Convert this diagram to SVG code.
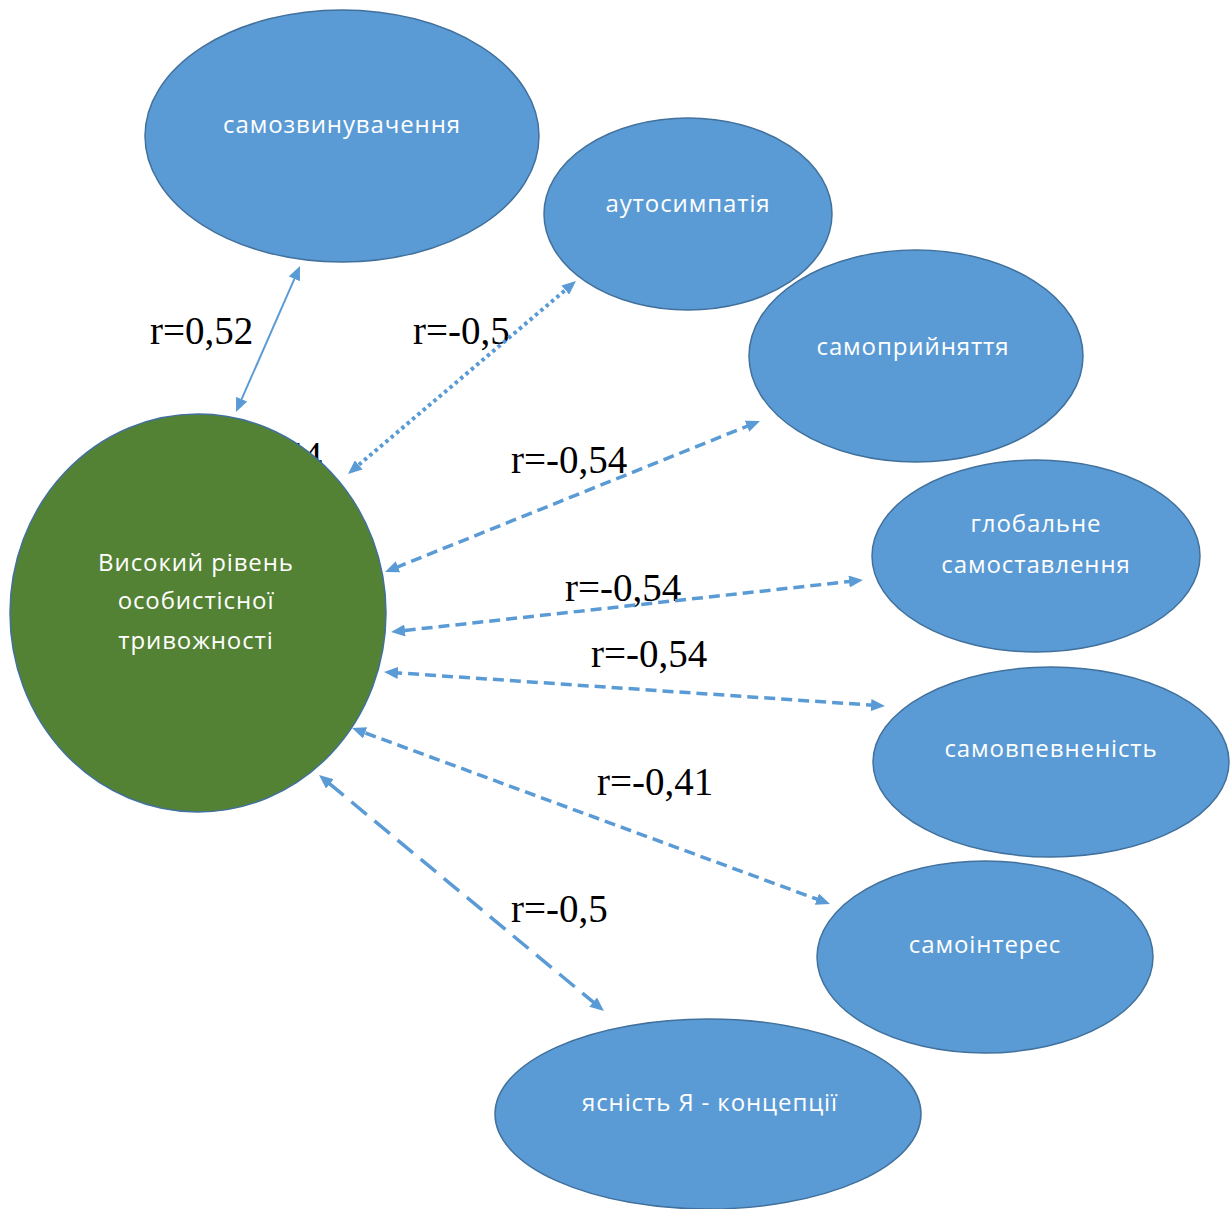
<svg xmlns="http://www.w3.org/2000/svg" width="1232" height="1209" viewBox="0 0 1232 1209">
<style>
.node{fill:#5b9bd5;stroke:#41719c;stroke-width:1.5}
.center{fill:#548235;stroke:#41719c;stroke-width:1.5}
.nt{font-family:"Open Sans","Noto Sans",sans-serif;font-size:24px;letter-spacing:0.9px;fill:#ffffff;text-anchor:middle}
.lbl{font-family:"Liberation Serif","Times New Roman",serif;font-size:39px;fill:#000000}
.c{fill:none;stroke:#5b9bd5;marker-start:url(#ah);marker-end:url(#ah)}
.solid{stroke-width:2}
.dot{stroke-width:4;stroke-dasharray:3.5 3.5}
.dash{stroke-width:3.5;stroke-dasharray:11 6}
.ldash{stroke-width:3.5;stroke-dasharray:20 10}
</style>
<defs>
<marker id="ah" viewBox="0 0 14 12" refX="6" refY="6" markerWidth="14" markerHeight="12" markerUnits="userSpaceOnUse" orient="auto-start-reverse">
<path d="M0,0 L14,6 L0,12 z" fill="#5b9bd5"/>
</marker>
</defs>
<rect width="1232" height="1209" fill="#ffffff"/>
<text class="lbl" x="206" y="469">r=-0,54</text>
<g id="n-anxiety">
<ellipse class="center" cx="198" cy="613" rx="188" ry="199"/>
<text class="nt" x="196" y="571">Високий рівень</text>
<text class="nt" x="196" y="609">особистісної</text>
<text class="nt" x="196" y="649">тривожності</text>
</g>
<g id="n-selfblame">
<ellipse class="node" cx="342" cy="136" rx="197" ry="126"/>
<text class="nt" x="342" y="133">самозвинувачення</text>
</g>
<g id="n-autosympathy">
<ellipse class="node" cx="688" cy="214" rx="144" ry="96"/>
<text class="nt" x="688" y="212">аутосимпатія</text>
</g>
<g id="n-selfacceptance">
<ellipse class="node" cx="916" cy="356" rx="167" ry="106"/>
<text class="nt" x="913" y="355">самоприйняття</text>
</g>
<g id="n-global">
<ellipse class="node" cx="1036" cy="556" rx="164" ry="96"/>
<text class="nt" x="1036" y="532">глобальне</text>
<text class="nt" x="1036" y="573">самоставлення</text>
</g>
<g id="n-confidence">
<ellipse class="node" cx="1051" cy="762" rx="178" ry="95"/>
<text class="nt" x="1051" y="757">самовпевненість</text>
</g>
<g id="n-selfinterest">
<ellipse class="node" cx="985" cy="957" rx="168" ry="96"/>
<text class="nt" x="985" y="953">самоінтерес</text>
</g>
<g id="n-clarity">
<ellipse class="node" cx="708" cy="1114" rx="213" ry="95"/>
<text class="nt" x="710" y="1111">ясність Я - концепції</text>
</g>
<g id="labels">
<text class="lbl" x="150" y="344">r=0,52</text>
<text class="lbl" x="413" y="344">r=-0,5</text>
<text class="lbl" x="511" y="473">r=-0,54</text>
<text class="lbl" x="565" y="601">r=-0,54</text>
<text class="lbl" x="591" y="667">r=-0,54</text>
<text class="lbl" x="597" y="795">r=-0,41</text>
<text class="lbl" x="511" y="922">r=-0,5</text>
</g>
<g id="connectors">
<line class="c solid" x1="296.8" y1="273.3" x2="239.2" y2="404.7"/>
<line class="c dot" x1="569.9" y1="286.2" x2="354.1" y2="468.8"/>
<line class="c dash" x1="752.6" y1="424.0" x2="392.4" y2="569.0"/>
<line class="c dash" x1="855.0" y1="580.9" x2="399.0" y2="631.1"/>
<line class="c dash" x1="877.0" y1="705.5" x2="392.0" y2="672.5"/>
<line class="c dash" x1="822.5" y1="901.2" x2="359.5" y2="730.8"/>
<line class="c ldash" x1="597.8" y1="1005.9" x2="325.2" y2="780.1"/>
</g>
</svg>
